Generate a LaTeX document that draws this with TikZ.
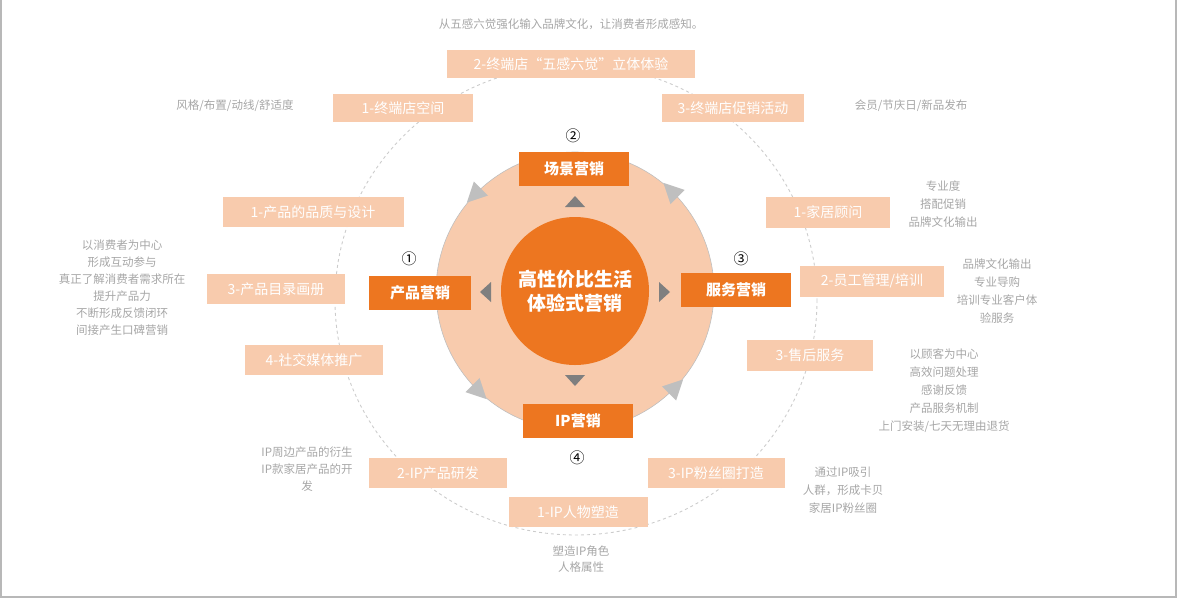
\documentclass[tikz,border=0pt]{standalone}
\usepackage{fontspec}
\setmainfont{Noto Sans CJK SC}
\definecolor{org}{HTML}{ED7620}
\definecolor{pch}{HTML}{F8CBAD}
\definecolor{gtx}{HTML}{A6A6A6}
\definecolor{arr}{HTML}{7F7F7F}
\definecolor{larr}{HTML}{BFBFBF}
\tikzset{
 sub/.style={fill=pch,text=white,font=\fontsize{14}{16}\selectfont,inner sep=0pt,anchor=center},
 main/.style={fill=org,text=white,font=\fontsize{15}{17}\selectfont\bfseries,minimum width=110pt,minimum height=34pt,inner sep=0pt},
 note/.style={text=gtx,font=\fontsize{11.5}{18}\selectfont,align=center,inner sep=0pt},
 num/.style={font=\fontsize{15}{15}\selectfont,inner sep=0pt},
}
\begin{document}
\begin{tikzpicture}[x=1pt,y=-1pt]
\useasboundingbox (0,0) rectangle (1177,598);
\draw[gtx!80,line width=2pt] (1,0) -- (1,597) -- (1176,597) -- (1176,0);
% dashed outer ellipse
\draw[larr!80,dashed,line width=0.9pt] (576,300) ellipse [x radius=241,y radius=235];
% circles
\fill[pch] (575,291) circle (139);
\draw[larr,line width=0.6pt] (575,291) circle (139);
\node[circle,fill=org,minimum size=148pt,inner sep=0pt,text=white,align=center,font=\fontsize{19}{24}\selectfont\bfseries] (c) at (575,291) {高性价比生活\\体验式营销};
% small dark triangles
\fill[arr] (575,196) -- (585,207) -- (565,207) -- cycle;
\fill[arr] (575,386) -- (585,375) -- (565,375) -- cycle;
\fill[arr] (480,292) -- (491,282) -- (491,302) -- cycle;
\fill[arr] (670,292) -- (659,282) -- (659,302) -- cycle;
% light arrowheads on ring (counterclockwise)
\foreach \a in {45,135,225,315}{
 \begin{scope}[shift={(575,291)}]
 \fill[larr] ({139*cos(\a)},{-139*sin(\a)}) ++({14*cos(\a+90)},{-14*sin(\a+90)}) coordinate (t)
   -- ++({-20*cos(\a+90)+10*cos(\a)},{20*sin(\a+90)-10*sin(\a)})
   -- ++({-20*cos(\a)},{20*sin(\a)}) -- cycle;
 \end{scope}}
% main boxes
\node[main] (s) at (574,169) {场景营销};
\node[main,minimum width=102pt] (p) at (420,293) {产品营销};
\node[main] (f) at (736,290) {服务营销};
\node[main] (ip) at (578,421) {IP营销};
\node[num] (n2) at (573,136) {②};
\node[num] (n1) at (409,259) {①};
\node[num] (n3) at (741,259) {③};
\node[num] (n4) at (577,458) {④};
% sub boxes
\node[sub,minimum width=248pt,minimum height=28pt] (s2) at (571,64) {2-终端店“五感六觉”立体体验};
\node[sub,minimum width=140pt,minimum height=28pt] (s1) at (403,108) {1-终端店空间};
\node[sub,minimum width=142pt,minimum height=28pt] (s3) at (733,108) {3-终端店促销活动};
\node[sub,minimum width=181pt,minimum height=30pt] (p1) at (313,212) {1-产品的品质与设计};
\node[sub,minimum width=138pt,minimum height=30pt] (p3) at (276,289) {3-产品目录画册};
\node[sub,minimum width=138pt,minimum height=30pt] (p4) at (314,360) {4-社交媒体推广};
\node[sub,minimum width=124pt,minimum height=31pt] (f1) at (828,212) {1-家居顾问};
\node[sub,minimum width=144pt,minimum height=31pt] (f2) at (872,281) {2-员工管理/培训};
\node[sub,minimum width=126pt,minimum height=31pt] (f3) at (810,355) {3-售后服务};
\node[sub,minimum width=138pt,minimum height=30pt] (i2) at (438,473) {2-IP产品研发};
\node[sub,minimum width=139pt,minimum height=30pt] (i1) at (578,512) {1-IP人物塑造};
\node[sub,minimum width=137pt,minimum height=30pt] (i3) at (716,473) {3-IP粉丝圈打造};
% notes
\node[note] (t0) at (571,24) {从五感六觉强化输入品牌文化，让消费者形成感知。};
\node[note] (t1) at (235,106) {风格/布置/动线/舒适度};
\node[note] (t2) at (911,106) {会员/节庆日/新品发布};
\node[note] (t3) at (943,204) {专业度\\搭配促销\\品牌文化输出};
\node[note] (t4) at (997,291) {品牌文化输出\\专业导购\\培训专业客户体\\验服务};
\node[note] (t5) at (944,391) {以顾客为中心\\高效问题处理\\感谢反馈\\产品服务机制\\上门安装/七天无理由退货};
\node[note,font=\fontsize{11.5}{17}\selectfont] (t6) at (122,288) {以消费者为中心\\形成互动参与\\真正了解消费者需求所在\\提升产品力\\不断形成反馈闭环\\间接产生口碑营销};
\node[note,font=\fontsize{11.5}{17}\selectfont] (t7) at (307,469) {IP周边产品的衍生\\IP款家居产品的开\\发};
\node[note] (t8) at (843,490) {通过IP吸引\\人群，形成卡贝\\家居IP粉丝圈};
\node[note,font=\fontsize{11.5}{16}\selectfont] (t9) at (581,559) {塑造IP角色\\人格属性};
\end{tikzpicture}
\end{document}
